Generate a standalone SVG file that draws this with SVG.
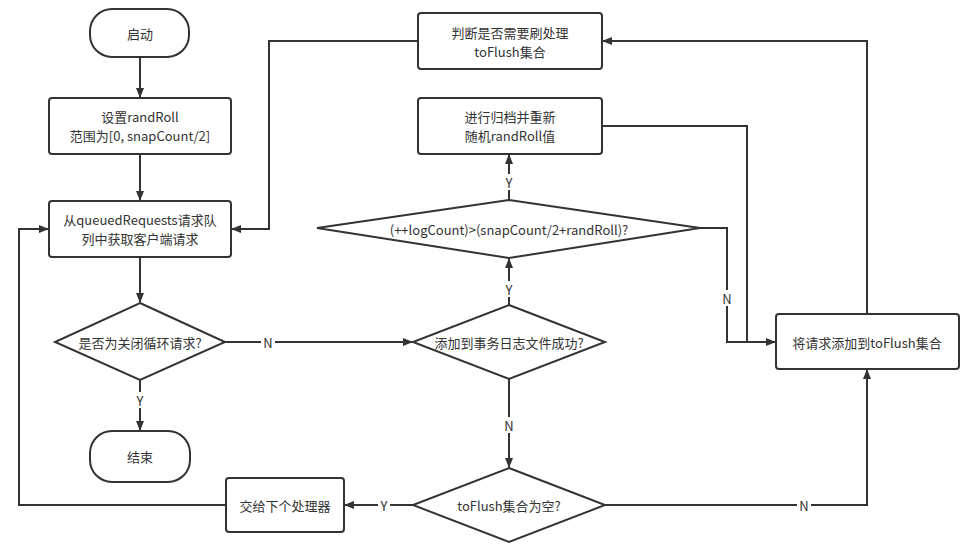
<svg xmlns="http://www.w3.org/2000/svg" width="968" height="550" viewBox="0 0 968 550">
<defs>
<marker id="ah" markerWidth="10" markerHeight="10" viewBox="0 0 10 10" refX="9" refY="5" orient="auto" markerUnits="userSpaceOnUse">
<path d="M0,1 L10,5 L0,9 Z" fill="#333"/>
</marker>
<style>
.n{fill:#fff;stroke:#333;stroke-width:2}
.t{font-family:"Microsoft YaHei","Noto Sans CJK SC","Noto Sans",sans-serif;font-size:13px;fill:#333;text-anchor:middle;dominant-baseline:central}
.c{fill:none;stroke:#333;stroke-width:2;marker-end:url(#ah)}
.p{fill:none;stroke:#333;stroke-width:2}
.lb{fill:#fff}
</style>
</defs>
<rect width="968" height="550" fill="#fff"/>
<g id="connectors">
<path class="c" d="M140,57 V97"/>
<path class="c" d="M140,154 V200"/>
<path class="c" d="M140,257 V302"/>
<path class="c" d="M225,342 H412"/>
<path class="c" d="M140,380 V430"/>
<path class="c" d="M509,305 V259"/>
<path class="c" d="M509,379 V467"/>
<path class="c" d="M413,505 H345"/>
<path class="c" d="M605,505 H867 V370"/>
<path class="c" d="M226,505 H19 V229 H48"/>
<path class="c" d="M509,200 V155"/>
<path class="c" d="M700,228 H727 V342 H775"/>
<path class="p" d="M602,126 H747 V342"/>
<path class="c" d="M867,314 V41 H603"/>
<path class="c" d="M418,41 H269 V229 H232"/>
<rect class="lb" x="261" y="334" width="14" height="16"/>
<text class="t" x="268" y="342">N</text>
<rect class="lb" x="134" y="392" width="12" height="16"/>
<text class="t" x="140" y="400">Y</text>
<rect class="lb" x="503" y="281" width="12" height="16"/>
<text class="t" x="509" y="289">Y</text>
<rect class="lb" x="502" y="417" width="14" height="16"/>
<text class="t" x="509" y="425">N</text>
<rect class="lb" x="378" y="497" width="12" height="16"/>
<text class="t" x="384" y="505">Y</text>
<rect class="lb" x="797" y="497" width="14" height="16"/>
<text class="t" x="804" y="505">N</text>
<rect class="lb" x="503" y="174" width="12" height="16"/>
<text class="t" x="509" y="182">Y</text>
<rect class="lb" x="720" y="290" width="14" height="16"/>
<text class="t" x="727" y="298">N</text>
</g>
<g id="start">
<rect class="n" x="90" y="9" width="99" height="48" rx="22"/>
<text class="t" x="140" y="33">启动</text>
</g>
<g id="setRandRoll">
<rect class="n" x="49" y="98" width="182" height="56" rx="3"/>
<text class="t" x="140" y="116">设置randRoll</text>
<text class="t" x="140" y="135">范围为[0, snapCount/2]</text>
</g>
<g id="fetchRequest">
<rect class="n" x="49" y="201" width="182" height="56" rx="3"/>
<text class="t" x="140" y="219">从queuedRequests请求队</text>
<text class="t" x="140" y="238">列中获取客户端请求</text>
</g>
<g id="isClose">
<polygon class="n" points="140,303 225,342 140,380 55,342"/>
<text class="t" x="140" y="342">是否为关闭循环请求?</text>
</g>
<g id="end">
<rect class="n" x="90" y="431" width="100" height="51" rx="22"/>
<text class="t" x="140" y="456">结束</text>
</g>
<g id="nextProcessor">
<rect class="n" x="226" y="478" width="118" height="54" rx="3"/>
<text class="t" x="285" y="505">交给下个处理器</text>
</g>
<g id="addTxnLog">
<polygon class="n" points="509,305 605,342 509,379 413,342"/>
<text class="t" x="509" y="342">添加到事务日志文件成功?</text>
</g>
<g id="isEmpty">
<polygon class="n" points="509,468 605,505 509,542 413,505"/>
<text class="t" x="509" y="505">toFlush集合为空?</text>
</g>
<g id="logCount">
<polygon class="n" points="509,200 700,228 509,258 317,228"/>
<text class="t" x="509" y="229">(++logCount)&gt;(snapCount/2+randRoll)?</text>
</g>
<g id="checkFlush">
<rect class="n" x="418" y="13" width="184" height="56" rx="3"/>
<text class="t" x="510" y="32">判断是否需要刷处理</text>
<text class="t" x="510" y="51">toFlush集合</text>
</g>
<g id="rollLog">
<rect class="n" x="418" y="98" width="184" height="56" rx="3"/>
<text class="t" x="510" y="116">进行归档并重新</text>
<text class="t" x="510" y="135">随机randRoll值</text>
</g>
<g id="addToFlush">
<rect class="n" x="776" y="314" width="183" height="55" rx="3"/>
<text class="t" x="867" y="342">将请求添加到toFlush集合</text>
</g>
</svg>
